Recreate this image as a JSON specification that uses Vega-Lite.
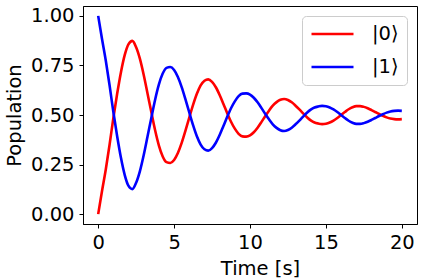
{
  "$schema": "https://vega.github.io/schema/vega-lite/v6.json",
  "width": 334,
  "height": 218,
  "autosize": {"type": "none"},
  "padding": {"left": 83, "top": 6, "right": 7, "bottom": 56},
  "background": "white",
  "config": {
    "font": "DejaVu Sans",
    "view": {"stroke": "black", "strokeWidth": 1},
    "axis": {
      "grid": false,
      "domainColor": "black",
      "tickColor": "black",
      "tickSize": 4,
      "labelColor": "black",
      "titleColor": "black",
      "labelFont": "DejaVu Sans",
      "titleFont": "DejaVu Sans",
      "labelFontSize": 19.5,
      "titleFontSize": 19.5,
      "titleFontWeight": "normal"
    },
    "legend": {
      "labelFont": "DejaVu Sans",
      "labelFontSize": 19.5,
      "labelColor": "black"
    }
  },
  "data": {
    "values": [
      {"t": 0, "p0": 0, "p1": 1},
      {"t": 0.25, "p0": 0.115, "p1": 0.885},
      {"t": 0.5, "p0": 0.225, "p1": 0.775},
      {"t": 0.75, "p0": 0.35, "p1": 0.65},
      {"t": 1.0, "p0": 0.485, "p1": 0.515},
      {"t": 1.25, "p0": 0.607, "p1": 0.393},
      {"t": 1.5, "p0": 0.716, "p1": 0.284},
      {"t": 1.75, "p0": 0.803, "p1": 0.197},
      {"t": 2.0, "p0": 0.858, "p1": 0.142},
      {"t": 2.25, "p0": 0.874, "p1": 0.126},
      {"t": 2.5, "p0": 0.842, "p1": 0.158},
      {"t": 2.75, "p0": 0.783, "p1": 0.217},
      {"t": 3.0, "p0": 0.702, "p1": 0.298},
      {"t": 3.25, "p0": 0.609, "p1": 0.391},
      {"t": 3.5, "p0": 0.515, "p1": 0.485},
      {"t": 3.75, "p0": 0.423, "p1": 0.577},
      {"t": 4.0, "p0": 0.346, "p1": 0.654},
      {"t": 4.25, "p0": 0.291, "p1": 0.709},
      {"t": 4.5, "p0": 0.262, "p1": 0.738},
      {"t": 4.75, "p0": 0.258, "p1": 0.742},
      {"t": 5.0, "p0": 0.273, "p1": 0.727},
      {"t": 5.25, "p0": 0.308, "p1": 0.692},
      {"t": 5.5, "p0": 0.359, "p1": 0.641},
      {"t": 5.75, "p0": 0.421, "p1": 0.579},
      {"t": 6.0, "p0": 0.487, "p1": 0.513},
      {"t": 6.25, "p0": 0.551, "p1": 0.449},
      {"t": 6.5, "p0": 0.607, "p1": 0.393},
      {"t": 6.75, "p0": 0.649, "p1": 0.351},
      {"t": 7.0, "p0": 0.673, "p1": 0.327},
      {"t": 7.25, "p0": 0.68, "p1": 0.32},
      {"t": 7.5, "p0": 0.667, "p1": 0.333},
      {"t": 7.75, "p0": 0.64, "p1": 0.36},
      {"t": 8.0, "p0": 0.601, "p1": 0.399},
      {"t": 8.25, "p0": 0.556, "p1": 0.444},
      {"t": 8.5, "p0": 0.509, "p1": 0.491},
      {"t": 8.75, "p0": 0.466, "p1": 0.534},
      {"t": 9.0, "p0": 0.431, "p1": 0.569},
      {"t": 9.25, "p0": 0.405, "p1": 0.595},
      {"t": 9.5, "p0": 0.392, "p1": 0.608},
      {"t": 9.75, "p0": 0.391, "p1": 0.609},
      {"t": 10.0, "p0": 0.397, "p1": 0.603},
      {"t": 10.25, "p0": 0.413, "p1": 0.587},
      {"t": 10.5, "p0": 0.436, "p1": 0.564},
      {"t": 10.75, "p0": 0.464, "p1": 0.536},
      {"t": 11.0, "p0": 0.494, "p1": 0.506},
      {"t": 11.25, "p0": 0.522, "p1": 0.478},
      {"t": 11.5, "p0": 0.547, "p1": 0.453},
      {"t": 11.75, "p0": 0.565, "p1": 0.435},
      {"t": 12.0, "p0": 0.577, "p1": 0.423},
      {"t": 12.25, "p0": 0.581, "p1": 0.419},
      {"t": 12.5, "p0": 0.576, "p1": 0.424},
      {"t": 12.75, "p0": 0.564, "p1": 0.436},
      {"t": 13.0, "p0": 0.547, "p1": 0.453},
      {"t": 13.25, "p0": 0.528, "p1": 0.472},
      {"t": 13.5, "p0": 0.508, "p1": 0.492},
      {"t": 13.75, "p0": 0.489, "p1": 0.511},
      {"t": 14.0, "p0": 0.473, "p1": 0.527},
      {"t": 14.25, "p0": 0.462, "p1": 0.538},
      {"t": 14.5, "p0": 0.457, "p1": 0.543},
      {"t": 14.75, "p0": 0.454, "p1": 0.546},
      {"t": 15.0, "p0": 0.456, "p1": 0.544},
      {"t": 15.25, "p0": 0.462, "p1": 0.538},
      {"t": 15.5, "p0": 0.472, "p1": 0.528},
      {"t": 15.75, "p0": 0.485, "p1": 0.515},
      {"t": 16.0, "p0": 0.5, "p1": 0.5},
      {"t": 16.25, "p0": 0.515, "p1": 0.485},
      {"t": 16.5, "p0": 0.529, "p1": 0.471},
      {"t": 16.75, "p0": 0.539, "p1": 0.461},
      {"t": 17.0, "p0": 0.545, "p1": 0.455},
      {"t": 17.25, "p0": 0.545, "p1": 0.455},
      {"t": 17.5, "p0": 0.541, "p1": 0.459},
      {"t": 17.75, "p0": 0.534, "p1": 0.466},
      {"t": 18.0, "p0": 0.525, "p1": 0.475},
      {"t": 18.25, "p0": 0.515, "p1": 0.485},
      {"t": 18.5, "p0": 0.505, "p1": 0.495},
      {"t": 18.75, "p0": 0.496, "p1": 0.504},
      {"t": 19.0, "p0": 0.488, "p1": 0.512},
      {"t": 19.25, "p0": 0.482, "p1": 0.518},
      {"t": 19.5, "p0": 0.479, "p1": 0.521},
      {"t": 19.75, "p0": 0.478, "p1": 0.522},
      {"t": 20.0, "p0": 0.479, "p1": 0.521}
    ]
  },
  "encoding": {
    "x": {
      "field": "t",
      "type": "quantitative",
      "title": "Time [s]",
      "scale": {"domain": [-1, 21], "nice": false, "zero": false},
      "axis": {"values": [0, 5, 10, 15, 20], "labelPadding": 5, "titlePadding": 8, "labelFlush": false, "titleX": 177}
    }
  },
  "layer": [
    {
      "mark": {"type": "line", "strokeWidth": 2.6, "interpolate": "monotone"},
      "encoding": {
        "y": {
          "field": "p0",
          "type": "quantitative",
          "title": "Population",
          "scale": {"domain": [-0.05, 1.05], "nice": false, "zero": false},
          "axis": {"values": [0, 0.25, 0.5, 0.75, 1], "format": ".2f", "labelPadding": 5, "titlePadding": 6}
        },
        "color": {
          "datum": "|0⟩",
          "type": "nominal",
          "scale": {"domain": ["|0⟩", "|1⟩"], "range": ["#ff0000", "#0000ff"]},
          "legend": {
            "title": null,
            "orient": "top-right",
            "offset": 10,
            "symbolType": "stroke",
            "symbolSize": 1764,
            "symbolStrokeWidth": 2.6,
            "clipHeight": 20,
            "labelOffset": 17,
            "rowPadding": 13,
            "padding": 8,
            "fillColor": "white",
            "strokeColor": "#cccccc",
            "cornerRadius": 4
          }
        }
      }
    },
    {
      "mark": {"type": "line", "strokeWidth": 2.6, "interpolate": "monotone"},
      "encoding": {
        "y": {"field": "p1", "type": "quantitative"},
        "color": {"datum": "|1⟩", "type": "nominal"}
      }
    }
  ]
}
